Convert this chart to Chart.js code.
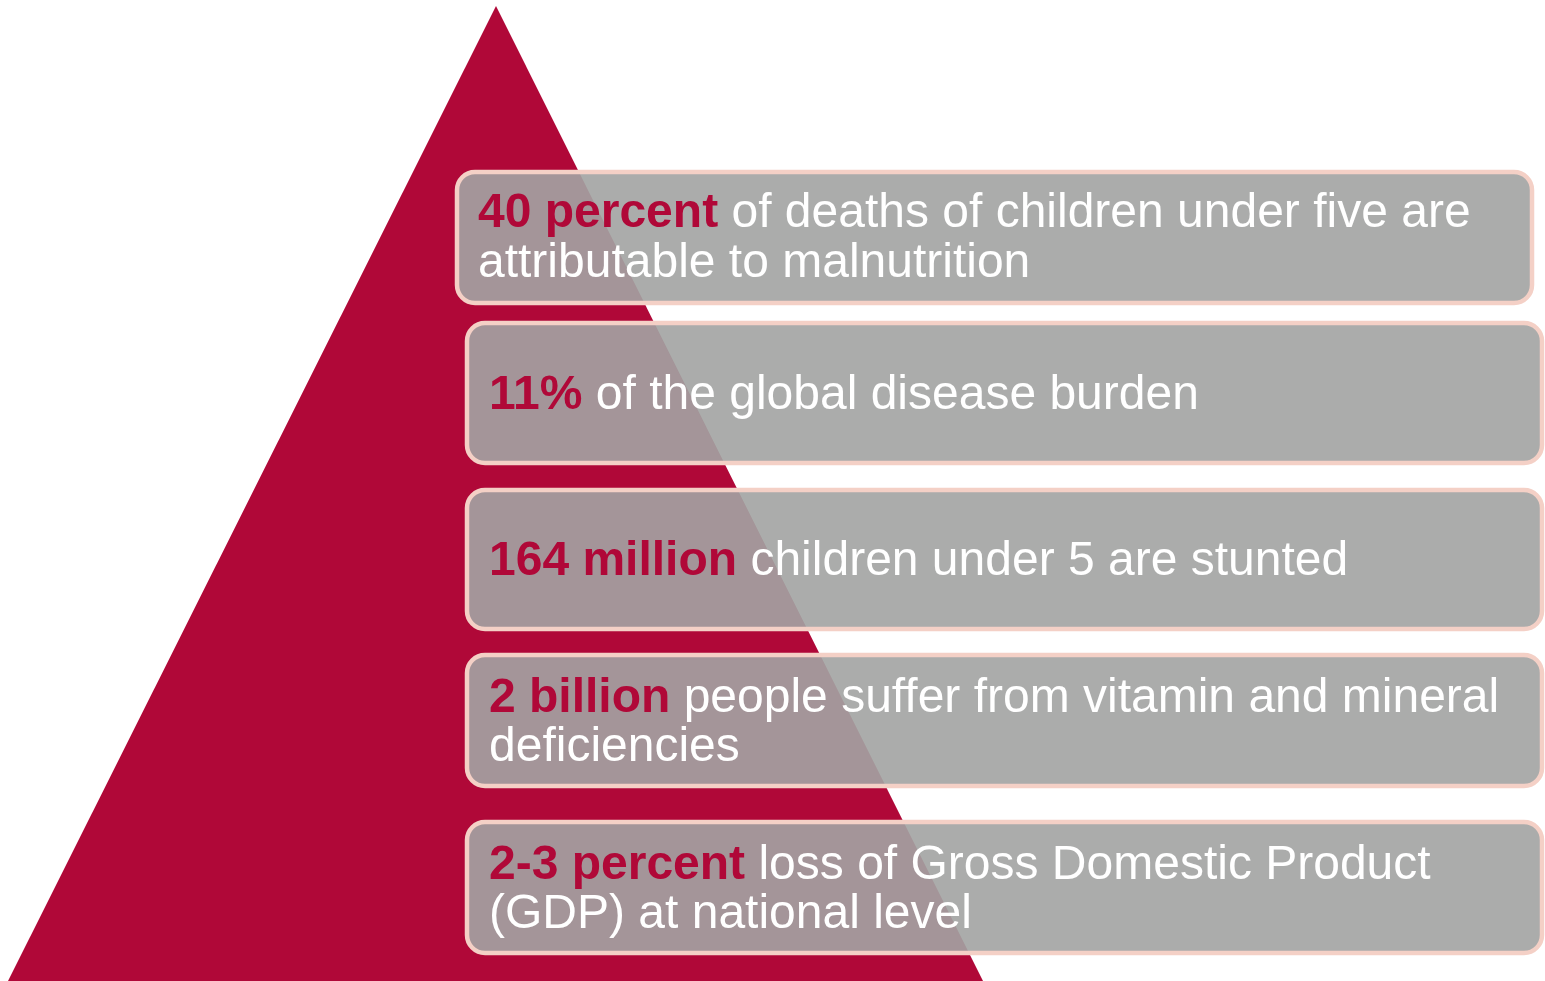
<!DOCTYPE html>
<html>
<head>
<meta charset="utf-8">
<script src="https://cdn.jsdelivr.net/npm/chart.js@4.4.1/dist/chart.umd.min.js"></script>
<style>
  html, body { margin: 0; padding: 0; background: #ffffff; }
  #wrap { width: 1545px; height: 981px; }
</style>
</head>
<body>
<div id="wrap"><canvas id="c" width="1545" height="981"></canvas></div>
<script>
// ---- data ----
const pyramidX = [8, 496, 983];
const pyramidY = [981, 6, 981];

const boldTexts = ["40 percent", "11%", "164 million", "2 billion", "2-3 percent"];
const line1Texts = [
  " of deaths of children under five are",
  " of the global disease burden",
  " children under 5 are stunted",
  " people suffer from vitamin and mineral",
  " loss of Gross Domestic Product"
];
const line2Texts = [
  "attributable to malnutrition",
  "",
  "",
  "deficiencies",
  "(GDP) at national level"
];

// ---- layout (in axis units, 1 unit = 1 px) ----
const boxLeft   = [457, 467, 467, 467, 467];
const boxRight  = [1532, 1542, 1542, 1542, 1542];
const boxTop    = [172, 323, 490, 655, 822];
const boxBottom = [303, 463, 629, 786, 953];
const textX     = [478, 489, 489, 489, 489];
const baseline1 = [227, 409, 575, 712, 879];
const baseline2 = [277, null, null, 761, 928];

const CRIMSON = '#B00838';
const BOX_FILL = 'rgba(163,164,163,0.91)';
const BOX_BORDER = '#F4D0C6';
const FONT_FAMILY = '"Liberation Sans", Arial, Helvetica, sans-serif';
const FONT_SIZE = 48;

const boxesPlugin = {
  id: 'boxes',
  afterDatasetsDraw(chart) {
    const ctx = chart.ctx;
    const xs = chart.scales.x, ys = chart.scales.y;
    ctx.save();
    for (let i = 0; i < boldTexts.length; i++) {
      const x0 = xs.getPixelForValue(boxLeft[i]);
      const x1 = xs.getPixelForValue(boxRight[i]);
      const y0 = ys.getPixelForValue(boxTop[i]);
      const y1 = ys.getPixelForValue(boxBottom[i]);
      ctx.beginPath();
      ctx.roundRect(x0, y0, x1 - x0, y1 - y0, 18);
      ctx.fillStyle = BOX_FILL;
      ctx.fill();
      ctx.lineWidth = 4.5;
      ctx.strokeStyle = BOX_BORDER;
      ctx.stroke();

      const tx = xs.getPixelForValue(textX[i]);
      const b1 = ys.getPixelForValue(baseline1[i]);
      ctx.textBaseline = 'alphabetic';
      ctx.textAlign = 'left';
      ctx.font = 'bold ' + FONT_SIZE + 'px ' + FONT_FAMILY;
      ctx.fillStyle = CRIMSON;
      ctx.fillText(boldTexts[i], tx, b1);
      const w = ctx.measureText(boldTexts[i]).width;
      ctx.font = FONT_SIZE + 'px ' + FONT_FAMILY;
      ctx.fillStyle = '#FFFFFF';
      ctx.fillText(line1Texts[i], tx + w, b1);
      if (line2Texts[i]) {
        const b2 = ys.getPixelForValue(baseline2[i]);
        ctx.fillText(line2Texts[i], tx, b2);
      }
    }
    ctx.restore();
  }
};

const pyramidData = pyramidX.map((x, i) => ({ x: x, y: pyramidY[i] }));

new Chart(document.getElementById('c'), {
  type: 'scatter',
  data: {
    datasets: [{
      data: pyramidData,
      showLine: true,
      tension: 0,
      fill: { value: 981 },
      backgroundColor: CRIMSON,
      borderColor: CRIMSON,
      borderWidth: 0,
      pointRadius: 0,
      pointHoverRadius: 0
    }]
  },
  options: {
    responsive: false,
    animation: false,
    events: [],
    layout: { padding: 0 },
    plugins: { legend: { display: false }, tooltip: { enabled: false } },
    scales: {
      x: { type: 'linear', min: 0, max: 1545, display: false },
      y: { type: 'linear', min: 0, max: 981, reverse: true, display: false }
    }
  },
  plugins: [boxesPlugin]
});
</script>
</body>
</html>
